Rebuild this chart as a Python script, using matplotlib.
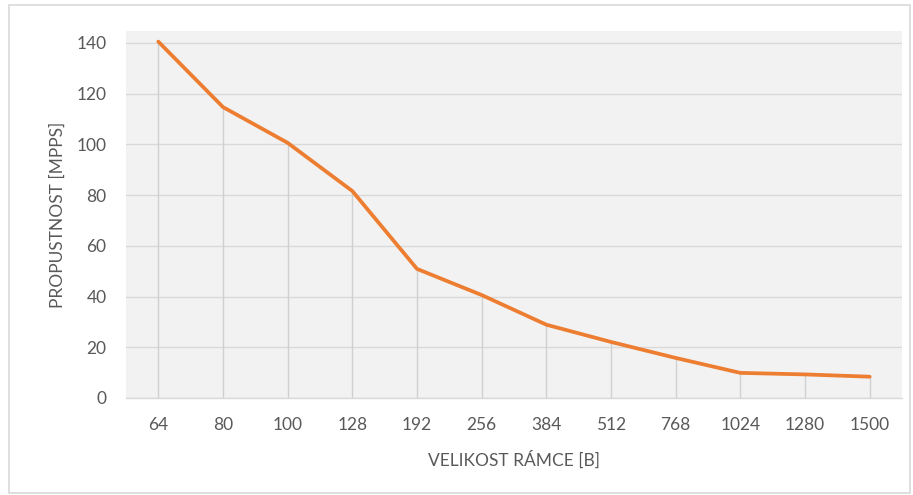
import matplotlib
matplotlib.use("Agg")
import matplotlib.pyplot as plt
from matplotlib.patches import Rectangle

categories = ["64", "80", "100", "128", "192", "256", "384", "512", "768", "1024", "1280", "1500"]
values = [140.5, 114.7, 100.6, 81.6, 50.9, 40.6, 28.9, 22.1, 15.8, 9.9, 9.3, 8.4]
yticks = [0, 20, 40, 60, 80, 100, 120, 140]

plt.rcParams['font.family'] = ['Lato', 'DejaVu Sans']

W, H = 913, 495
fig = plt.figure(figsize=(W/100, H/100), dpi=100)
fig.patch.set_facecolor('white')
fig.add_artist(Rectangle((9/W, 1 - 493/H), (910-9)/W, (493-5)/H, transform=fig.transFigure,
                         fill=False, edgecolor='#D9D9D9', linewidth=1.2))

ax = fig.add_axes([126/W, 1 - 398/H, (902-126)/W, (398-31)/H])
ax.set_facecolor('#F2F2F2')
x = list(range(len(categories)))
ax.vlines(x, 0, values, color='#D0D0D0', linewidth=1.0, zorder=1)
ax.plot(x, values, color='#ED7D31', linewidth=2.7, solid_capstyle='round', zorder=3)

ax.set_xlim(-0.5, len(categories) - 0.5)
ax.set_ylim(0, 144.7)
ax.set_yticks(yticks)
ax.set_xticks(x)
ax.set_xticklabels(categories)
ax.yaxis.grid(True, color='#D9D9D9', linewidth=1.0)
ax.set_axisbelow(True)
for s in ['top', 'right', 'left']:
    ax.spines[s].set_visible(False)
ax.spines['bottom'].set_color('#D9D9D9')
ax.spines['bottom'].set_linewidth(1.0)
ax.tick_params(axis='both', length=0, labelsize=12.5, labelcolor='#595959')
ax.tick_params(axis='x', pad=14)
ax.tick_params(axis='y', pad=14)
ax.set_xlabel("VELIKOST RÁMCE [B]", fontsize=12.5, color='#595959', labelpad=12)
ax.set_ylabel("PROPUSTNOST [MPPS]", fontsize=12.5, color='#595959', labelpad=8)

fig.savefig("out.png", dpi=100, facecolor='white')
